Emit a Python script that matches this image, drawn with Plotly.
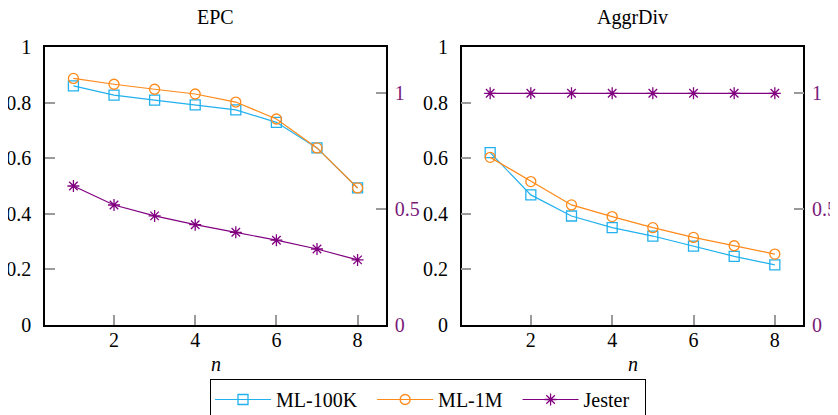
import plotly.graph_objects as go

n_values = [1, 2, 3, 4, 5, 6, 7, 8]

epc_ml100k = [0.860, 0.827, 0.809, 0.792, 0.774, 0.729, 0.637, 0.493]
epc_ml1m = [0.887, 0.866, 0.848, 0.831, 0.802, 0.741, 0.637, 0.493]
epc_jester = [0.600, 0.518, 0.471, 0.433, 0.400, 0.366, 0.328, 0.281]

aggr_ml100k = [0.620, 0.468, 0.392, 0.350, 0.320, 0.284, 0.247, 0.216]
aggr_ml1m = [0.603, 0.516, 0.432, 0.390, 0.350, 0.315, 0.285, 0.255]
aggr_jester = [1.0, 1.0, 1.0, 1.0, 1.0, 1.0, 1.0, 1.0]

series_names = ["ML-100K", "ML-1M", "Jester"]
panel_titles = ["EPC", "AggrDiv"]
left_ticks = [0, 0.2, 0.4, 0.6, 0.8, 1]
left_ticktext = ["0", "0.2", "0.4", "0.6", "0.8", "1"]
right_ticks = [0, 0.5, 1]
right_ticktext = ["0", "0.5", "1"]
x_ticks = [2, 4, 6, 8]

C_BLUE = "#22B1EE"
C_ORANGE = "#FF8A1A"
C_PURPLE = "#800080"
FONT = "Liberation Serif, Times New Roman, serif"

# page is offset by the default 8px body margin
OFF = 8
FW, FH = 838 - OFF, 415 - OFF

def px(x):
    return (x - OFF) / FW

def py(y):
    return (415 - y) / FH

NB = "\u00a0"
pads = [NB * 2, NB * 2, NB * 2]

fig = go.Figure()

def add_panel(ml100k, ml1m, jester, xa, ya, ya2, show):
    fig.add_trace(go.Scatter(x=n_values, y=ml100k, name=series_names[0] + pads[0], mode="lines+markers",
                             line=dict(color=C_BLUE, width=1.2),
                             marker=dict(symbol="square-open", size=10, color=C_BLUE, line=dict(width=1.3)),
                             xaxis=xa, yaxis=ya, showlegend=show, legendgroup="a"))
    fig.add_trace(go.Scatter(x=n_values, y=ml1m, name=series_names[1] + pads[1], mode="lines+markers",
                             line=dict(color=C_ORANGE, width=1.2),
                             marker=dict(symbol="circle-open", size=10, color=C_ORANGE, line=dict(width=1.3)),
                             xaxis=xa, yaxis=ya, showlegend=show, legendgroup="b"))
    fig.add_trace(go.Scatter(x=n_values, y=jester, name=series_names[2] + pads[2], mode="lines+markers",
                             line=dict(color=C_PURPLE, width=1.2),
                             marker=dict(symbol="asterisk-open", size=10, color=C_PURPLE,
                                         line=dict(width=1.3, color=C_PURPLE)),
                             xaxis=xa, yaxis=ya2, showlegend=show, legendgroup="c"))

add_panel(epc_ml100k, epc_ml1m, epc_jester, "x", "y", "y2", True)
add_panel(aggr_ml100k, aggr_ml1m, aggr_jester, "x2", "y3", "y4", False)

dom_l = [px(45), px(386)]
dom_r = [px(461.7), px(803.3)]
dom_y = [py(325), py(47)]

tickcol = "#9a9a9a"
xcommon = dict(range=[0.3, 8.7], tickvals=x_ticks, ticks="inside", ticklen=10, tickwidth=1.5,
               tickcolor=tickcol, showline=True, linecolor="black", linewidth=1.5, mirror=True,
               showgrid=False, zeroline=False, tickfont=dict(family=FONT, size=20, color="black"),
               ticklabelstandoff=-4, automargin=False)
ycommon = dict(range=[0, 1], tickvals=left_ticks, ticktext=left_ticktext, ticks="inside", ticklen=10,
               tickwidth=1.5, tickcolor=tickcol, showline=True, linecolor="black", linewidth=1.5,
               showgrid=False, zeroline=False, tickfont=dict(family=FONT, size=20, color="black"),
               ticklabelstandoff=8, automargin=False)
y2common = dict(range=[0, 1.2], tickvals=right_ticks, ticktext=right_ticktext, ticks="inside", ticklen=10,
                tickwidth=1.5, tickcolor=tickcol, showline=True, linecolor="black", linewidth=1.5,
                showgrid=False, zeroline=False, side="right",
                tickfont=dict(family=FONT, size=20, color="#7a1a7a"), ticklabelstandoff=3,
                automargin=False)

fig.update_layout(
    width=FW, height=FH,
    margin=dict(l=0, r=0, t=0, b=0, autoexpand=False),
    paper_bgcolor="white", plot_bgcolor="white",
    font=dict(family=FONT, size=20, color="black"),
    xaxis=dict(domain=dom_l, anchor="y", **xcommon),
    yaxis=dict(domain=dom_y, anchor="x", **ycommon),
    yaxis2=dict(overlaying="y", anchor="x", **y2common),
    xaxis2=dict(domain=dom_r, anchor="y3", **xcommon),
    yaxis3=dict(domain=dom_y, anchor="x2", **ycommon),
    yaxis4=dict(overlaying="y3", anchor="x2", **y2common),
    legend=dict(orientation="h", xref="container", yref="container",
                x=px(428), xanchor="center", y=py(379), yanchor="top",
                bordercolor="black", borderwidth=1, font=dict(family=FONT, size=20),
                bgcolor="white", itemwidth=56),
    showlegend=True,
)

for title, dom in zip(panel_titles, [dom_l, dom_r]):
    fig.add_annotation(text=title, x=(dom[0] + dom[1]) / 2, y=py(17), xref="paper", yref="paper",
                       showarrow=False, font=dict(family=FONT, size=20), xanchor="center", yanchor="middle")
    fig.add_annotation(text="<i>n</i>", x=(dom[0] + dom[1]) / 2, y=py(364), xref="paper", yref="paper",
                       showarrow=False, font=dict(family=FONT, size=20), xanchor="center", yanchor="middle")

fig.write_html("out.html")
